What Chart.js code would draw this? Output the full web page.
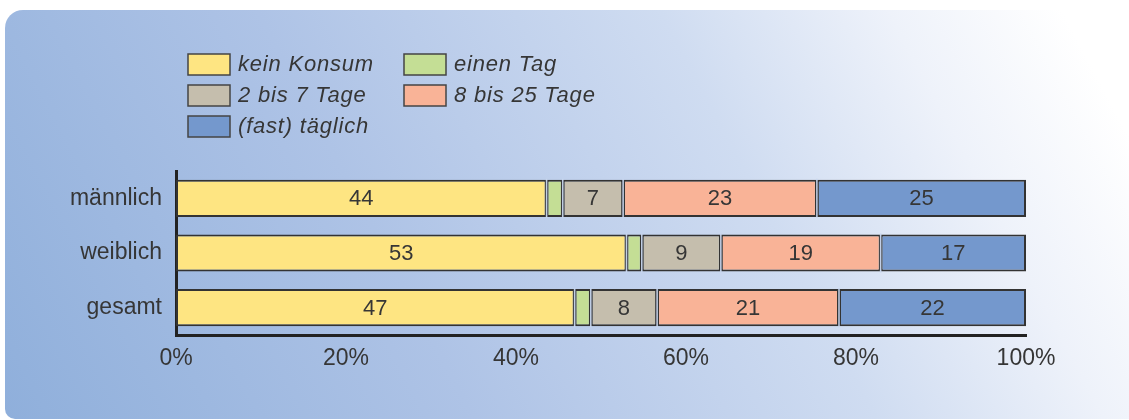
<!DOCTYPE html>
<html>

<head>
  <meta charset="utf-8">
  <title>Konsumhäufigkeit</title>
  <script src="https://cdn.jsdelivr.net/npm/chart.js"></script>
  <style>
    body { margin: 0; background: #fff; }
    #panel {
      position: absolute; left: 5px; top: 10px; width: 1124px; height: 409px;
      border-radius: 18px 0 0 10px;
      background: linear-gradient(62deg, #8fafdb 0%, #aec3e6 35%, #cfdcf1 65%, #eef2fa 82%, #ffffff 95%);
    }
    #wrap { position: absolute; left: 0; top: 0; width: 1129px; height: 420px; }
  </style>
</head>

<body>
  <div id="panel"></div>
  <div id="wrap"><canvas id="myChart" width="1129" height="420"></canvas></div>
  <script>
    var groups = ['männlich', 'weiblich', 'gesamt'];
    var seriesNames = ['kein Konsum', 'einen Tag', '2 bis 7 Tage', '8 bis 25 Tage', '(fast) täglich'];
    var seriesColors = ['#fee582', '#c4de95', '#c5bead', '#f9b397', '#7498cd'];
    var keinKonsum = [43.6, 53.0, 46.9];
    var einenTag = [1.9, 1.8, 1.9];
    var zweiBisSieben = [7.1, 9.3, 7.8];
    var achtBis25 = [22.8, 18.8, 21.4];
    var taeglich = [24.6, 17.1, 22.0];
    var xTickLabels = ['0%', '20%', '40%', '60%', '80%', '100%'];

    var seriesValues = [keinKonsum, einenTag, zweiBisSieben, achtBis25, taeglich];
    var textColor = '#363636';

    // legend in two columns, drawn by hand
    var boxLegend = {
      id: 'boxLegend',
      afterDraw: function (chart) {
        var ctx = chart.ctx;
        ctx.save();
        chart.data.datasets.forEach(function (ds, i) {
          var col = i % 2, row = Math.floor(i / 2);
          var x = col === 0 ? 188 : 404;
          var y = 54 + row * 31;
          ctx.fillStyle = ds.backgroundColor;
          ctx.fillRect(x, y, 42, 21);
          ctx.strokeStyle = '#444';
          ctx.lineWidth = 1.5;
          ctx.strokeRect(x, y, 42, 21);
          ctx.fillStyle = textColor;
          ctx.font = 'italic 22px "Liberation Sans"';
          ctx.letterSpacing = '0.8px';
          ctx.textBaseline = 'middle';
          ctx.fillText(ds.label, x + 50, y + 11);
        });
        ctx.restore();
      }
    };

    // numbers inside the bars, plus a thin gap between the segments
    var barNumbers = {
      id: 'barNumbers',
      afterDatasetsDraw: function (chart) {
        var ctx = chart.ctx;
        ctx.save();
        chart.data.datasets.forEach(function (ds, i) {
          if (i === 0) return;
          chart.getDatasetMeta(i).data.forEach(function (el) {
            var h = el.height;
            ctx.fillStyle = 'rgba(200,214,238,0.9)';
            ctx.fillRect(el.base - 0.8, el.y - h / 2 - 1, 1.6, h + 2);
          });
        });
        ctx.font = '22px "Liberation Sans"';
        ctx.fillStyle = textColor;
        ctx.textAlign = 'center';
        ctx.textBaseline = 'middle';
        chart.data.datasets.forEach(function (ds, i) {
          chart.getDatasetMeta(i).data.forEach(function (el, j) {
            var v = ds.data[j];
            if (v < 3) return;
            ctx.fillText(Math.round(v), (el.x + el.base) / 2, el.y + 1);
          });
        });
        ctx.restore();
      }
    };

    var ctx = document.getElementById('myChart').getContext('2d');
    var myChart = new Chart(ctx, {
      type: 'bar',
      data: {
        labels: groups,
        datasets: seriesNames.map(function (name, i) {
          return {
            label: name,
            data: seriesValues[i],
            backgroundColor: seriesColors[i],
            borderColor: '#333',
            borderWidth: 2,
            borderSkipped: false,
            categoryPercentage: 1,
            barPercentage: 0.68
          };
        })
      },
      options: {
        indexAxis: 'y',
        responsive: false,
        animation: false,
        layout: { padding: { left: 0, right: 103, top: 171, bottom: 0 } },
        plugins: { legend: { display: false }, tooltip: { enabled: false } },
        scales: {
          x: {
            stacked: true,
            min: 0,
            max: 100,
            grid: { display: false, drawTicks: false },
            border: { display: true, color: '#222', width: 3 },
            afterFit: function (s) { s.height = 85; },
            ticks: {
              stepSize: 20,
              padding: 10,
              color: textColor,
              font: { family: 'Liberation Sans', size: 23 },
              callback: function (v, i) { return xTickLabels[i]; }
            }
          },
          y: {
            stacked: true,
            grid: { display: false, drawTicks: false },
            border: { display: true, color: '#222', width: 3 },
            afterFit: function (s) { s.width = 176; },
            ticks: {
              padding: 14,
              color: textColor,
              font: { family: 'Liberation Sans', size: 23 }
            }
          }
        }
      },
      plugins: [boxLegend, barNumbers]
    });
  </script>
</body>

</html>
